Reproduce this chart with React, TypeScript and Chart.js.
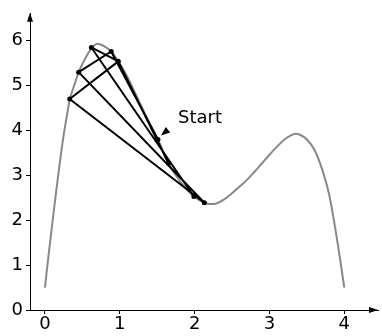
import React, { useEffect, useRef } from 'react';
import { Chart, registerables } from 'chart.js';
Chart.register(...registerables);

// Gray curve
const curveX = [0, 0.05, 0.1, 0.15, 0.2, 0.25, 0.3, 0.33, 0.4, 0.45, 0.5, 0.6, 0.7, 0.8, 0.885, 0.98, 1.1, 1.2, 1.3, 1.4, 1.51, 1.65, 1.8, 1.9, 1.99, 2.13, 2.2, 2.3, 2.4, 2.5, 2.6, 2.7, 2.8, 2.9, 3.0, 3.1, 3.2, 3.3, 3.35, 3.4, 3.5, 3.6, 3.7, 3.8, 3.9, 4.0];
const curveY = [0.5, 1.25, 1.95, 2.65, 3.3, 3.9, 4.4, 4.68, 5.05, 5.3, 5.48, 5.78, 5.93, 5.87, 5.76, 5.54, 5.2, 4.85, 4.5, 4.15, 3.8, 3.27, 2.88, 2.68, 2.53, 2.39, 2.36, 2.38, 2.47, 2.6, 2.75, 2.9, 3.08, 3.27, 3.46, 3.64, 3.8, 3.9, 3.93, 3.91, 3.8, 3.57, 3.15, 2.55, 1.6, 0.5];

// Iteration points
const ptNames = ['A', 'B', 'C', 'D', 'E', 'S', 'F', 'G', 'H'];
const ptX = [0.33, 0.45, 0.62, 0.885, 0.98, 1.51, 1.65, 1.99, 2.13];
const ptY = [4.7, 5.3, 5.85, 5.76, 5.54, 3.8, 3.27, 2.53, 2.39];

// Segments between points
const edgeFrom = ['S', 'D', 'B', 'A', 'A', 'E', 'C', 'C'];
const edgeTo = ['D', 'B', 'H', 'H', 'E', 'F', 'G', 'E'];

const startName = 'S';
const startLabel = 'Start';

const xTicks = [0, 1, 2, 3, 4];
const yTicks = [0, 1, 2, 3, 4, 5, 6];

const FONT = '"DejaVu Sans", sans-serif';

export default function App() {
  const ref = useRef<HTMLCanvasElement | null>(null);
  useEffect(() => {
    if (!ref.current) return;
    const pt = (n: string) => {
      const i = ptNames.indexOf(n);
      return { x: ptX[i], y: ptY[i] };
    };
    const segData: any[] = [];
    edgeFrom.forEach((f, i) => {
      segData.push(pt(f));
      segData.push(pt(edgeTo[i]));
      segData.push({ x: NaN, y: NaN });
    });

    const overlay = {
      id: 'overlay',
      afterDraw(chart: any) {
        const ctx = chart.ctx;
        const xs = chart.scales.x;
        const ys = chart.scales.y;
        const ca = chart.chartArea;
        ctx.save();
        ctx.fillStyle = '#000';
        // axis arrows
        const ax = ca.left;
        const ay = ca.bottom;
        ctx.beginPath();
        ctx.moveTo(ax, ca.top - 1);
        ctx.lineTo(ax - 3, ca.top + 8);
        ctx.lineTo(ax + 3, ca.top + 8);
        ctx.closePath();
        ctx.fill();
        ctx.beginPath();
        ctx.moveTo(ca.right, ay);
        ctx.lineTo(ca.right - 9, ay - 3);
        ctx.lineTo(ca.right - 9, ay + 3);
        ctx.closePath();
        ctx.fill();
        // Start label
        const s = pt(startName);
        const sx = xs.getPixelForValue(s.x);
        const sy = ys.getPixelForValue(s.y);
        const tipX = sx + 3;
        const tipY = sy - 4;
        const dx = 10, dy = -8;
        const len = Math.hypot(dx, dy);
        const ux = dx / len, uy = dy / len;
        const bx = tipX + ux * 9, by = tipY + uy * 9;
        ctx.beginPath();
        ctx.moveTo(tipX, tipY);
        ctx.lineTo(bx - uy * 3.5, by + ux * 3.5);
        ctx.lineTo(bx + uy * 3.5, by - ux * 3.5);
        ctx.closePath();
        ctx.fill();
        ctx.font = '18px ' + FONT;
        ctx.textBaseline = 'middle';
        ctx.textAlign = 'left';
        ctx.fillText(startLabel, sx + 20, sy - 21);
        ctx.restore();
      },
    };

    const chart = new Chart(ref.current, {
      type: 'scatter',
      data: {
        datasets: [
          {
            data: curveX.map((x, i) => ({ x, y: curveY[i] })),
            showLine: true,
            borderColor: '#888888',
            borderWidth: 2,
            pointRadius: 0,
            tension: 0.4,
            cubicInterpolationMode: 'monotone',
            order: 3,
          } as any,
          {
            data: segData,
            showLine: true,
            spanGaps: false,
            borderColor: '#000',
            borderWidth: 2,
            pointRadius: 0,
            order: 2,
          },
          {
            data: ptX.map((x, i) => ({ x, y: ptY[i] })),
            showLine: false,
            pointRadius: 2.5,
            pointBackgroundColor: '#000',
            pointBorderColor: '#000',
            pointBorderWidth: 0,
            order: 1,
          },
        ],
      },
      options: {
        animation: false,
        responsive: false,
        events: [],
        layout: { padding: { top: 10, left: 0, right: 0, bottom: 0 } },
        plugins: { legend: { display: false }, tooltip: { enabled: false } },
        scales: {
          x: {
            type: 'linear',
            min: -0.2,
            max: 4.45,
            afterBuildTicks: (s: any) => {
              s.ticks = xTicks.map((v) => ({ value: v }));
            },
            afterFit: (s: any) => {
              s.height = 26;
            },
            grid: { drawOnChartArea: false, drawTicks: true, tickLength: 4, color: '#000' },
            border: { display: true, color: '#000', width: 1 },
            ticks: { color: '#000', font: { family: FONT, size: 18 }, padding: 0, maxRotation: 0 },
          },
          y: {
            type: 'linear',
            min: 0,
            max: 6.6,
            afterBuildTicks: (s: any) => {
              s.ticks = yTicks.map((v) => ({ value: v }));
            },
            afterFit: (s: any) => {
              s.width = 30;
            },
            grid: { drawOnChartArea: false, drawTicks: true, tickLength: 4, color: '#000' },
            border: { display: true, color: '#000', width: 1 },
            ticks: { color: '#000', font: { family: FONT, size: 18 }, padding: 3 },
          },
        },
      },
      plugins: [overlay],
    });
    return () => chart.destroy();
  }, []);
  return (
    <div style={{ position: 'fixed', left: 0, top: 0, width: 382, height: 336 }}>
      <canvas ref={ref} width={382} height={336} style={{ width: 382, height: 336 }} />
    </div>
  );
}
